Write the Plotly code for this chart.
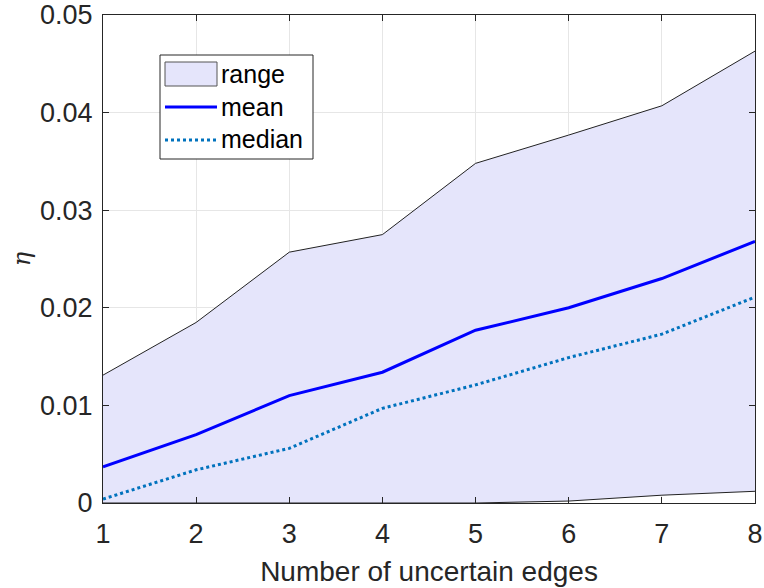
import plotly.graph_objects as go

x_vals = [1, 2, 3, 4, 5, 6, 7, 8]
range_upper = [0.0131, 0.0185, 0.0257, 0.0275, 0.0348, 0.0377, 0.0407, 0.0463]
range_lower = [0.0, 0.0, 0.0, 0.0, 0.0, 0.0002, 0.0008, 0.0012]
mean_vals = [0.0037, 0.0070, 0.0110, 0.0134, 0.0177, 0.0200, 0.0230, 0.0268]
median_vals = [0.0004, 0.0034, 0.0056, 0.0097, 0.0121, 0.0149, 0.0173, 0.0211]
y_ticks = [0, 0.01, 0.02, 0.03, 0.04, 0.05]
y_tick_labels = ["0", "0.01", "0.02", "0.03", "0.04", "0.05"]
legend_names = ["range", "mean", "median"]

FILL = "#E5E5FB"
MEAN_C = "#0000FF"
MED_C = "#0072BD"
FONT = "Liberation Sans, Arial, Helvetica"

fig = go.Figure()
fig.add_trace(go.Scatter(x=x_vals, y=range_lower, mode="lines",
                         line=dict(color="#222222", width=1), showlegend=False,
                         hoverinfo="skip"))
fig.add_trace(go.Scatter(x=x_vals, y=range_upper, mode="lines", name=legend_names[0],
                         fill="tonexty", fillcolor=FILL, showlegend=False,
                         line=dict(color="#222222", width=1)))
fig.add_trace(go.Scatter(x=x_vals, y=mean_vals, mode="lines", name=legend_names[1],
                         showlegend=False, line=dict(color=MEAN_C, width=3)))
fig.add_trace(go.Scatter(x=x_vals, y=median_vals, mode="lines", name=legend_names[2],
                         showlegend=False, line=dict(color=MED_C, width=3, dash="dot")))

axis_common = dict(showline=True, linecolor="#262626", linewidth=1, mirror="ticks",
                   ticks="inside", ticklen=6, tickcolor="#262626",
                   showgrid=True, gridcolor="#E6E6E6", gridwidth=1, zeroline=False,
                   ticklabeloverflow="allow", automargin=False,
                   tickfont=dict(family=FONT, size=27, color="#262626"))

fig.update_xaxes(range=[1, 8], tickvals=x_vals, ticklabelstandoff=7, title=dict(
    text="Number of uncertain edges", font=dict(family=FONT, size=28, color="#262626"),
    standoff=12), **axis_common)
fig.update_yaxes(range=[0, 0.05], tickvals=y_ticks, ticktext=y_tick_labels,
                 ticklabelstandoff=4, title=dict(
    text="<i>η</i>", font=dict(family="DejaVu Serif, serif", size=24, color="#262626"),
    standoff=2), **axis_common)

# Manual legend (MATLAB-style box) in paper coordinates
L, T, W, H = 103.0, 15.0, 652.0, 488.0
def px(v):
    return (v - L) / W
def py(v):
    return (T + H - v) / H

shapes = [
    dict(type="rect", xref="paper", yref="paper", x0=px(160), x1=px(313), y0=py(159), y1=py(55),
         fillcolor="white", line=dict(color="#262626", width=1), layer="above"),
    dict(type="rect", xref="paper", yref="paper", x0=px(165), x1=px(217), y0=py(86), y1=py(62),
         fillcolor=FILL, line=dict(color="#555555", width=1), layer="above"),
    dict(type="line", xref="paper", yref="paper", x0=px(165), x1=px(217), y0=py(107), y1=py(107),
         line=dict(color=MEAN_C, width=3), layer="above"),
    dict(type="line", xref="paper", yref="paper", x0=px(165), x1=px(217), y0=py(140), y1=py(140),
         line=dict(color=MED_C, width=3, dash="dot"), layer="above"),
]
annotations = [
    dict(xref="paper", yref="paper", x=px(219), y=py(yc), text=name, showarrow=False,
         xanchor="left", yanchor="middle", font=dict(family=FONT, size=25, color="black"))
    for name, yc in zip(legend_names, [74, 107, 139])
]

fig.update_layout(
    width=764, height=588,
    margin=dict(l=103, r=9, t=15, b=85),
    plot_bgcolor="white", paper_bgcolor="white",
    showlegend=False,
    shapes=shapes, annotations=annotations,
)

fig.write_html("out.html")
